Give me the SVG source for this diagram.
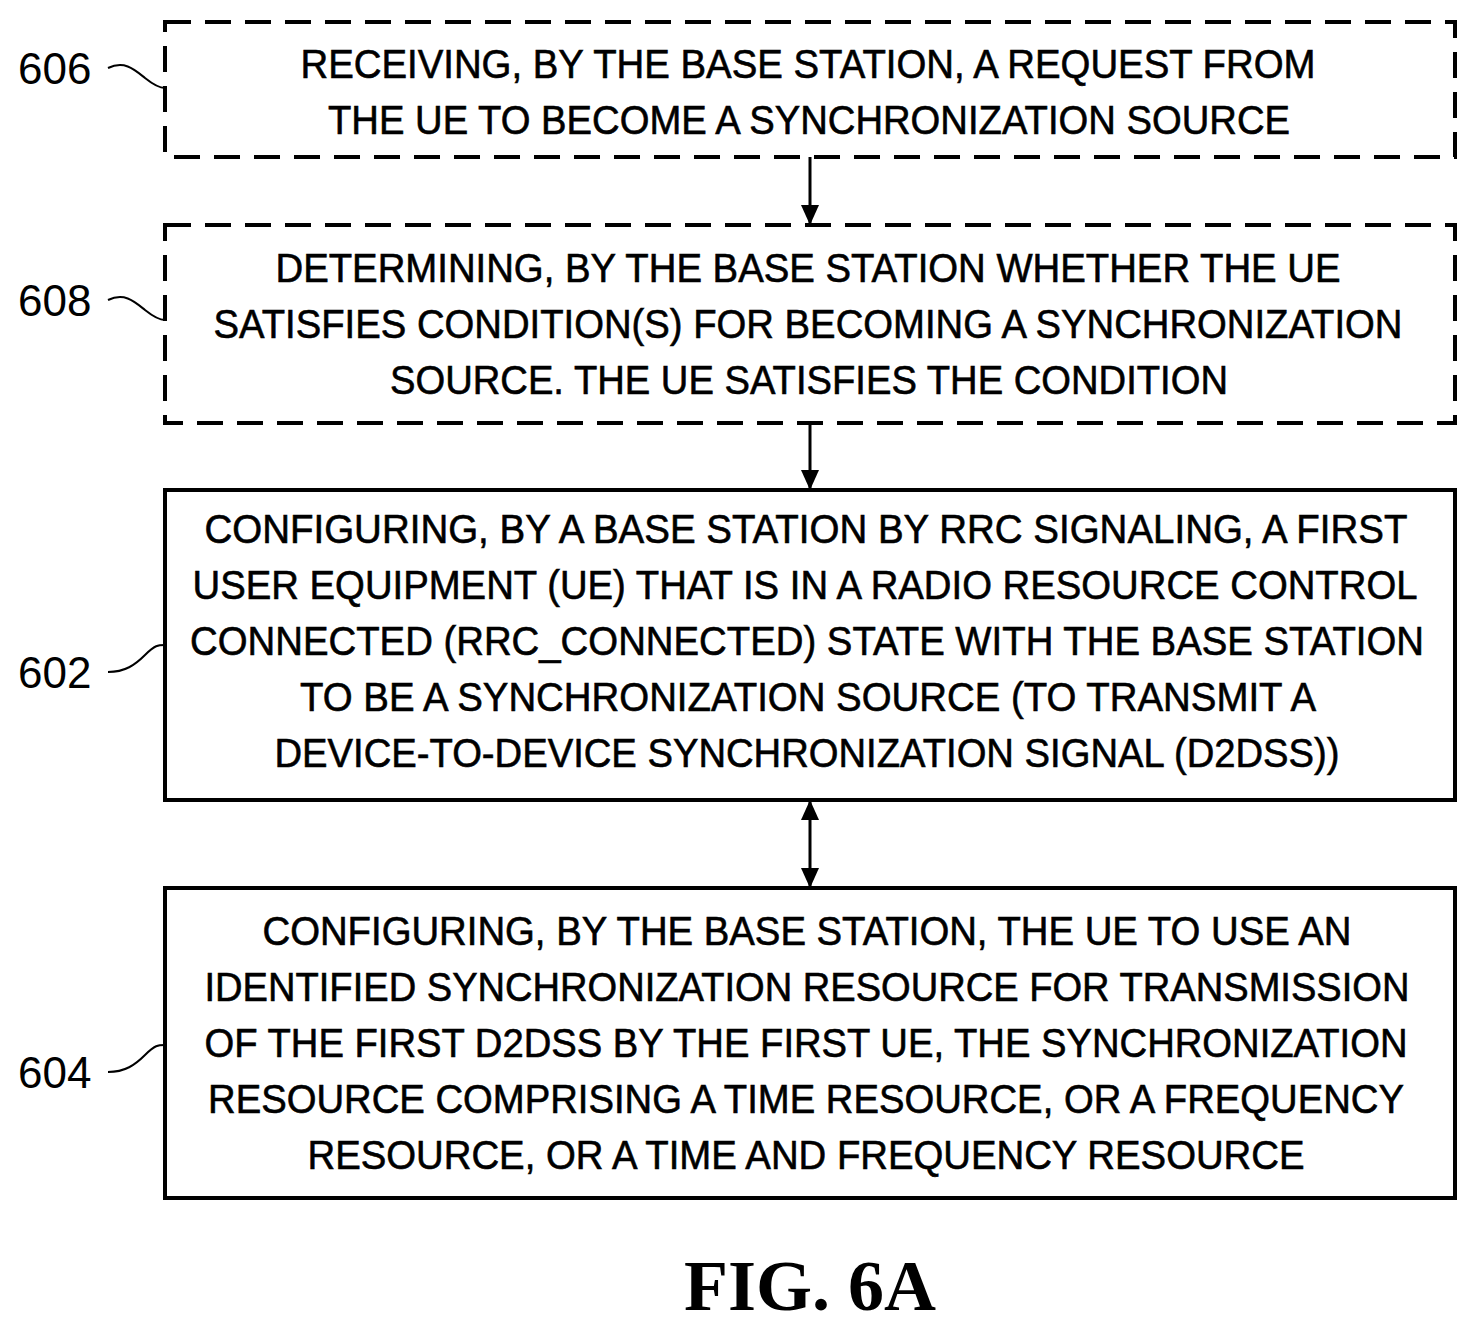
<svg xmlns="http://www.w3.org/2000/svg" width="1478" height="1333" viewBox="0 0 1478 1333">
<style>
.box{fill:#fff;stroke:#000;stroke-width:4}
.dash{stroke-dasharray:26 14}
.t{font-family:"Liberation Sans",Arial,sans-serif;font-size:40px;text-anchor:middle;fill:#000;stroke:#000;stroke-width:0.6}
.lbl{font-family:"Liberation Sans",Arial,sans-serif;font-size:44px;fill:#000}
.ld{fill:none;stroke:#000;stroke-width:2}
.c{stroke:#000;stroke-width:3;fill:none}
</style>
<defs><marker id="a" viewBox="0 0 10 10" refX="10" refY="5" markerWidth="6" markerHeight="6" orient="auto-start-reverse" markerUnits="userSpaceOnUse"><path d="M0,0 L10,5 L0,10 z"/></marker>
<marker id="ah" viewBox="0 0 20 20" refX="20" refY="10" markerWidth="20" markerHeight="20" orient="auto-start-reverse" markerUnits="userSpaceOnUse"><path d="M0,1 L20,10 L0,19 z" fill="#000"/></marker></defs>
<g id="n606">
<rect class="box dash" x="165" y="22" width="1290" height="135"/>
<text class="t" x="808" y="78" textLength="1015" lengthAdjust="spacingAndGlyphs">RECEIVING, BY THE BASE STATION, A REQUEST FROM</text>
<text class="t" x="809" y="134" textLength="962" lengthAdjust="spacingAndGlyphs">THE UE TO BECOME A SYNCHRONIZATION SOURCE</text>
<text class="lbl" x="18" y="84">606</text>
<path class="ld" d="M108,68 C125,60 135,70 145,78 S160,88 165,88"/>
</g>
<g id="n608">
<rect class="box dash" x="165" y="225" width="1290" height="198"/>
<text class="t" x="808" y="282" textLength="1065" lengthAdjust="spacingAndGlyphs">DETERMINING, BY THE BASE STATION WHETHER THE UE</text>
<text class="t" x="808" y="338" textLength="1189" lengthAdjust="spacingAndGlyphs">SATISFIES CONDITION(S) FOR BECOMING A SYNCHRONIZATION</text>
<text class="t" x="809" y="394" textLength="838" lengthAdjust="spacingAndGlyphs">SOURCE. THE UE SATISFIES THE CONDITION</text>
<text class="lbl" x="18" y="316">608</text>
<path class="ld" d="M108,300 C125,292 135,302 145,310 S160,320 165,320"/>
</g>
<g id="n602">
<rect class="box" x="165" y="490" width="1290" height="310"/>
<text class="t" x="806" y="543" textLength="1203" lengthAdjust="spacingAndGlyphs">CONFIGURING, BY A BASE STATION BY RRC SIGNALING, A FIRST</text>
<text class="t" x="805" y="599" textLength="1225" lengthAdjust="spacingAndGlyphs">USER EQUIPMENT (UE) THAT IS IN A RADIO RESOURCE CONTROL</text>
<text class="t" x="807" y="655" textLength="1234" lengthAdjust="spacingAndGlyphs">CONNECTED (RRC_CONNECTED) STATE WITH THE BASE STATION</text>
<text class="t" x="808" y="711" textLength="1016" lengthAdjust="spacingAndGlyphs">TO BE A SYNCHRONIZATION SOURCE (TO TRANSMIT A</text>
<text class="t" x="807" y="767" textLength="1065" lengthAdjust="spacingAndGlyphs">DEVICE-TO-DEVICE SYNCHRONIZATION SIGNAL (D2DSS))</text>
<text class="lbl" x="18" y="688">602</text>
<path class="ld" d="M108,672 C125,672 135,665 145,655 S158,645 165,645"/>
</g>
<g id="n604">
<rect class="box" x="165" y="888" width="1290" height="310"/>
<text class="t" x="807" y="945" textLength="1089" lengthAdjust="spacingAndGlyphs">CONFIGURING, BY THE BASE STATION, THE UE TO USE AN</text>
<text class="t" x="807" y="1001" textLength="1205" lengthAdjust="spacingAndGlyphs">IDENTIFIED SYNCHRONIZATION RESOURCE FOR TRANSMISSION</text>
<text class="t" x="806" y="1057" textLength="1203" lengthAdjust="spacingAndGlyphs">OF THE FIRST D2DSS BY THE FIRST UE, THE SYNCHRONIZATION</text>
<text class="t" x="806" y="1113" textLength="1196" lengthAdjust="spacingAndGlyphs">RESOURCE COMPRISING A TIME RESOURCE, OR A FREQUENCY</text>
<text class="t" x="806" y="1169" textLength="997" lengthAdjust="spacingAndGlyphs">RESOURCE, OR A TIME AND FREQUENCY RESOURCE</text>
<text class="lbl" x="18" y="1088">604</text>
<path class="ld" d="M108,1072 C125,1072 135,1065 145,1055 S158,1045 165,1045"/>
</g>
<g id="connectors">
<line class="c" x1="810" y1="157" x2="810" y2="225" marker-end="url(#ah)"/>
<line class="c" x1="810" y1="423" x2="810" y2="490" marker-end="url(#ah)"/>
<line class="c" x1="810" y1="800" x2="810" y2="888" marker-start="url(#ah)" marker-end="url(#ah)"/>
</g>
<text x="810" y="1310" font-family="Liberation Serif,serif" font-weight="bold" font-size="72" text-anchor="middle">FIG. 6A</text>
</svg>
